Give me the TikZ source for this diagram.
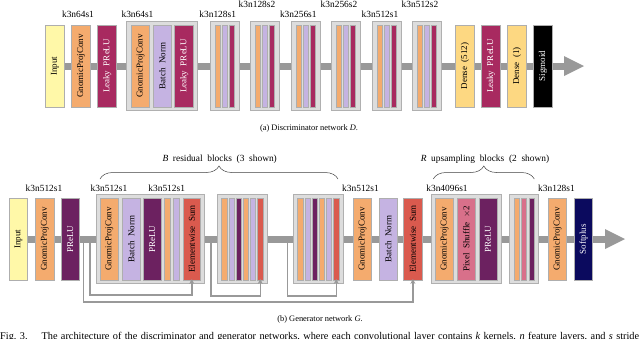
\documentclass[tikz,border=0pt]{standalone}
\usepackage{fontspec}
\setmainfont{Liberation Serif}
\usetikzlibrary{arrows.meta,decorations.pathreplacing,backgrounds,calc}
\definecolor{inputc}{HTML}{FFF8A8}
\definecolor{convc}{HTML}{F4AB6E}
\definecolor{lreluc}{HTML}{A82A60}
\definecolor{bnc}{HTML}{C5B3E2}
\definecolor{preluc}{HTML}{6C2160}
\definecolor{sumc}{HTML}{DA5A4E}
\definecolor{pixc}{HTML}{D8708A}
\definecolor{softc}{HTML}{0B0A5E}
\definecolor{densec}{HTML}{FDD882}
\definecolor{boxline}{HTML}{AEAEAE}
\definecolor{blkfill}{HTML}{DDDDDD}
\definecolor{blkline}{HTML}{B0B0B0}
\definecolor{barc}{HTML}{999999}
\newcommand{\rt}[1]{\rotatebox{90}{#1}}
\newcommand{\wsp}{\spaceskip=0.5em\relax}
\newcommand{\boxfont}{\fontsize{9}{10}\selectfont\wsp}
\newcommand{\lblfont}{\fontsize{9.4}{10}\selectfont\wsp}
\begin{document}
\begin{tikzpicture}[x=1pt,y=-1pt,
  box/.style={draw=boxline, line width=0.8pt, inner sep=0pt, minimum height=82, font={\boxfont}},
  wide/.style={minimum width=18.7},
  gw/.style={minimum width=18.2},
  thin/.style={draw=boxline, line width=0.8pt, inner sep=0pt, minimum height=82, minimum width=5},
  blk/.style={draw=blkline, fill=blkfill, line width=0.8pt, minimum height=89, inner sep=0pt},
  lbl/.style={font={\lblfont}, anchor=base, inner sep=0pt},
  captxt/.style={font={\fontsize{8.4}{10}\selectfont}, anchor=base, inner sep=0pt},
  bar/.style={draw=barc, line width=7pt},
  skip/.style={draw=barc, line width=1.4pt, -{Stealth[length=5pt,width=5pt]}, shorten >=-1.5pt},
  brc/.style={draw=black!75, line width=0.5pt, decorate, decoration={brace, amplitude=13pt}}]
\useasboundingbox (0,0) rectangle (640,338);

% ---------------- Discriminator ----------------
\node[box,wide,fill=inputc] (dIn) at (55,66) {\rt{Input}};
\node[box,wide,fill=convc] (dC0) at (81.2,66) {\rt{GnomicProjConv}};
\node[box,wide,fill=lreluc,text=white] (dL0) at (107.2,66) {\rt{Leaky PReLU}};
\node[blk,minimum width=71] (dB1) at (162,65.8) {};
\node[box,wide,fill=convc] (dC1) at (140.5,66) {\rt{GnomicProjConv}};
\node[box,wide,fill=bnc] (dN1) at (162.3,66) {\rt{Batch Norm}};
\node[box,wide,fill=lreluc,text=white] (dL1) at (184.2,66) {\rt{Leaky PReLU}};
\foreach \L [count=\i] in {210,250.5,291,331.5,372,412.5}{
  \node[blk,minimum width=29] (dT\i) at (\L+14.5,65.8) {};
  \node[thin,fill=convc] (dTa\i) at (\L+7.5,66) {};
  \node[thin,fill=bnc] (dTb\i) at (\L+14.5,66) {};
  \node[thin,fill=lreluc] (dTc\i) at (\L+21.5,66) {};
}
\node[box,wide,fill=densec] (dD1) at (465,66) {\rt{Dense (512)}};
\node[box,wide,fill=lreluc,text=white] (dL2) at (491,66) {\rt{Leaky PReLU}};
\node[box,wide,fill=densec] (dD2) at (517,66) {\rt{Dense (1)}};
\node[box,wide,fill=black,text=white] (dSg) at (543,66) {\rt{Sigmoid}};
\coordinate (dEnd) at (564,66);

\node[lbl] (lA1) at (78,17.5) {k3n64s1};
\node[lbl] (lA2) at (137.5,17.5) {k3n64s1};
\node[lbl] (lA3) at (217.7,17.5) {k3n128s1};
\node[lbl] (lA4) at (257,7.3) {k3n128s2};
\node[lbl] (lA5) at (298.3,17.5) {k3n256s1};
\node[lbl] (lA6) at (339,7.3) {k3n256s2};
\node[lbl] (lA7) at (380,17.5) {k3n512s1};
\node[lbl] (lA8) at (420,7.3) {k3n512s2};
\node[captxt] (capA) at (309,130) {(a) Discriminator network \textit{D}.};

% ---------------- Generator ----------------
\node[box,gw,fill=inputc] (gIn) at (18.5,239) {\rt{Input}};
\node[box,gw,fill=convc] (gC0) at (44.8,239) {\rt{GnomicProjConv}};
\node[box,gw,fill=preluc,text=white] (gP0) at (70.2,239) {\rt{PReLU}};

\node[blk,minimum width=108.5] (gR1) at (150.25,239.2) {};
\node[box,minimum width=17.5,fill=convc] (gR1c) at (109.3,239) {\rt{GnomicProjConv}};
\node[box,minimum width=17.5,fill=bnc] (gR1n) at (131.2,239) {\rt{Batch Norm}};
\node[box,minimum width=17.5,fill=preluc,text=white] (gR1p) at (152.3,239) {\rt{PReLU}};
\node[thin,minimum width=6,fill=convc] (gR1t) at (167.5,239) {};
\node[thin,minimum width=6,fill=bnc] (gR1u) at (176.5,239) {};
\node[box,minimum width=17.5,fill=sumc] (gR1s) at (191.8,239) {\rt{Elementwise Sum}};

\foreach \L/\n in {217.3/2,293.3/3}{
  \node[blk,minimum width=50] (gR\n) at (\L+25,239.2) {};
  \node[thin,minimum width=5.3,fill=convc] (gR\n a) at (\L+7.2,239) {};
  \node[thin,minimum width=5.3,fill=bnc] (gR\n b) at (\L+14.35,239) {};
  \node[thin,minimum width=5.3,fill=preluc] (gR\n c) at (\L+21.5,239) {};
  \node[thin,minimum width=5.3,fill=convc] (gR\n d) at (\L+28.65,239) {};
  \node[thin,minimum width=5.3,fill=bnc] (gR\n e) at (\L+35.8,239) {};
  \node[thin,minimum width=5.3,fill=sumc] (gR\n f) at (\L+42.95,239) {};
}

\node[box,gw,fill=convc] (gC2) at (362.5,239) {\rt{GnomicProjConv}};
\node[box,gw,fill=bnc] (gN2) at (388.2,239) {\rt{Batch Norm}};
\node[box,gw,fill=sumc] (gS2) at (412.9,239) {\rt{Elementwise Sum}};

\node[blk,minimum width=70.7] (gU1) at (466.35,239.2) {};
\node[box,gw,fill=convc] (gU1c) at (444.5,239) {\rt{GnomicProjConv}};
\node[box,gw,fill=pixc] (gU1x) at (466.7,239) {\rt{Pixel Shuffle $\times$2}};
\node[box,gw,fill=preluc,text=white] (gU1p) at (488,239) {\rt{PReLU}};
\node[blk,minimum width=29] (gU2) at (523.8,239.2) {};
\node[thin,fill=convc] (gU2a) at (516.8,239) {};
\node[thin,fill=pixc] (gU2b) at (524.2,239) {};
\node[thin,fill=preluc] (gU2c) at (531.4,239) {};

\node[box,gw,fill=convc] (gC3) at (557.5,239) {\rt{GnomicProjConv}};
\node[box,gw,fill=softc,text=white] (gSp) at (583.7,239) {\rt{Softplus}};
\coordinate (gEnd) at (605,239);

\node[lbl] (lB1) at (44,191) {k3n512s1};
\node[lbl] (lB2) at (109,191) {k3n512s1};
\node[lbl] (lB3) at (166.7,191) {k3n512s1};
\node[lbl] (lB4) at (360.5,191) {k3n512s1};
\node[lbl] (lB5) at (447,191) {k3n4096s1};
\node[lbl] (lB6) at (556.5,191) {k3n128s1};

\coordinate (brB1) at (100,179);
\coordinate (brB2) at (338,179);
\coordinate (brR1) at (433.3,179);
\coordinate (brR2) at (534.3,179);
\draw[brc] (brB1) -- (brB2);
\draw[brc] (brR1) -- (brR2);
\node[lbl] (tB) at (219.7,161) {\textit{B} residual blocks (3 shown)};
\node[lbl] (tR) at (485,161) {\textit{R} upsampling blocks (2 shown)};

% skip connections
\coordinate (k1o) at (83.3,239);
\coordinate (k1i) at (90,239);
\coordinate (k2) at (211,239);
\coordinate (k3) at (287.3,239);
\draw[skip] (k1o) -- ++(0,63) -| (gS2.south);
\draw[skip] (k1i) -- ++(0,56) -| (gR1s.south);
\draw[skip] (k2) -- ++(0,57) -| (gR2f.south);
\draw[skip] (k3) -- ++(0,57) -| (gR3f.south);

\node[captxt] (capB) at (320,321) {(b) Generator network \textit{G}.};
\node[captxt,font={\fontsize{10.3}{12}\selectfont},anchor=base west] (capF) at (0,339.5) {\makebox[639pt][s]{Fig.~3.\hspace{1.3em plus 1pt}The architecture of the discriminator and generator networks, where each convolutional layer contains \textit{k} kernels, \textit{n} feature layers, and \textit{s} stride}};

% main data paths
\begin{pgfonlayer}{background}
\draw[bar] (dIn.center) -- (dEnd);
\fill[barc] (dEnd) -- ++(0,-10) -- ++(20,10) -- ++(-20,10) -- cycle;
\draw[bar] (gIn.center) -- (gEnd);
\fill[barc] (gEnd) -- ++(0,-10) -- ++(20,10) -- ++(-20,10) -- cycle;
\end{pgfonlayer}
\end{tikzpicture}
\end{document}
